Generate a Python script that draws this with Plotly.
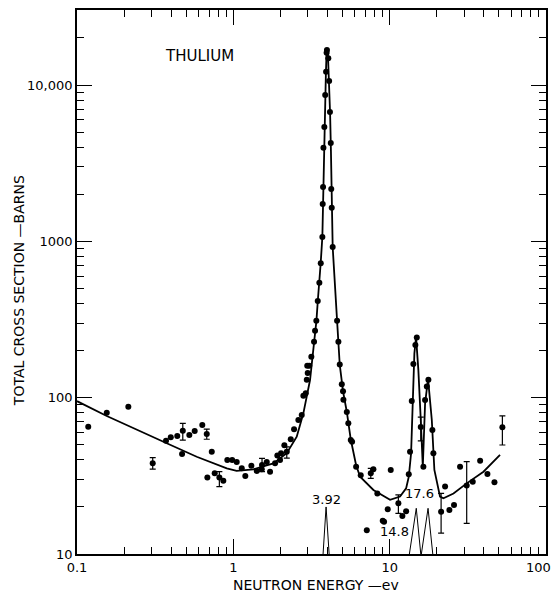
import plotly.graph_objects as go
import math

# ---------------- data ----------------
# measured points (energy eV, total cross section barns)
pt_E = [0.118, 0.155, 0.213, 0.371, 0.398, 0.438, 0.470, 0.523, 0.566, 0.633,
        0.728, 0.682, 0.760, 0.863, 0.915, 0.983, 1.051, 1.132, 1.193, 1.304,
        1.411, 1.52, 1.636, 1.717, 1.849, 1.912, 1.990, 2.02, 2.12, 2.33,
        2.446, 2.606, 2.739, 2.805, 2.905, 2.95, 2.99, 2.97, 3.06, 3.155,
        3.283, 3.332, 3.396, 3.467, 3.550, 3.624, 3.71, 3.73, 3.75, 3.77,
        3.82, 3.87, 3.92, 3.95, 3.97, 4.05, 4.10, 4.15, 4.20, 4.23,
        4.26, 4.32, 4.61, 4.70, 4.795, 4.94, 5.03, 5.06, 5.32, 5.44,
        5.64, 5.75, 6.10, 6.53, 7.87, 8.34, 10.16, 9.72, 9.03, 9.21,
        7.14, 10.5, 12.06, 12.74, 13.25, 13.5, 13.85, 14.18, 14.6, 14.91,
        16.43, 16.85, 17.28, 17.69, 18.76, 19.04, 22.62, 24.1, 25.8, 28.2,
        34.0, 37.9, 42.2, 46.8]
pt_S = [65.2, 80.2, 87.5, 53.1, 55.8, 56.9, 43.6, 57.7, 61.2, 66.8,
        45.1, 30.9, 32.8, 29.4, 39.9, 39.9, 38.8, 35.3, 31.6, 36.7,
        34.0, 34.8, 38.8, 33.6, 38.0, 42.6, 39.9, 44.1, 49.6, 54.2,
        62.8, 71.9, 77.5, 103, 106.7, 130, 144, 160, 160, 183,
        228, 268, 310, 416, 544, 724, 1067, 1734, 2228, 3977,
        5395, 8645, 12180, 16100, 16780, 14840, 10620, 6730, 4263, 2163,
        1643, 920, 310, 228, 163, 122, 110, 97, 81, 68.5,
        53.6, 52.3, 36.2, 31.9, 34.8, 24.4, 34.5, 19.3, 16.3, 16.1,
        14.2, 9.7, 17.5, 18.8, 32.4, 45.1, 95.3, 164, 217, 243,
        36.2, 96.6, 118, 130, 62.1, 44.1, 27.0, 19.1, 20.6, 36.2,
        29.0, 39.5, 32.5, 28.8]

# points drawn with error bars
err_E = [0.305, 0.475, 0.676, 0.814, 1.526, 2.197, 7.57, 11.37, 15.81, 21.33, 31.1, 52.6]
err_S = [38.0, 61.5, 58.6, 30.9, 37.1, 45.1, 32.8, 21.1, 65.0, 18.6, 27.4, 64.7]
err_up = [3.4, 7.0, 4.4, 2.7, 3.8, 3.4, 2.5, 2.8, 10.0, 5.8, 11.6, 11.7]
err_dn = [3.1, 8.0, 4.4, 3.9, 3.5, 4.1, 2.3, 2.9, 12.0, 5.0, 11.7, 14.9]

# fitted curve
curve_E = [0.1, 0.155, 0.375, 0.583, 0.908, 1.05, 1.343, 1.803, 2.197, 2.544,
           2.805, 3.095, 3.283, 3.40, 3.47, 3.55, 3.62, 3.71, 3.76, 3.80,
           3.86, 3.91, 3.95, 3.98, 4.03, 4.10, 4.16, 4.21, 4.26, 4.32,
           4.61, 4.795, 5.03, 5.32, 5.64, 6.10, 6.47, 7.87, 10.06, 11.65,
           12.74, 13.25, 13.71, 14.06, 14.39, 14.75, 15.26, 15.81, 16.29, 16.85,
           17.6, 18.6, 19.32, 21.0, 22.07, 25.6, 31.1, 39.8, 50.8]
curve_S = [95, 76.4, 51.1, 41.9, 35.3, 34.0, 34.8, 38.0, 44.1, 56.3,
           79.4, 129.7, 224, 310, 415, 544, 724, 1067, 2200, 4000,
           7500, 12000, 16300, 17000, 15500, 10600, 6500, 3800, 1800, 920,
           310, 162, 110, 81, 54, 37, 31.2, 25.7, 22.2, 23.3,
           26.3, 31.2, 44.1, 92, 192, 245, 150, 72, 36.2, 92,
           132, 72, 34.5, 23.3, 22.7, 24.4, 28.3, 33.6, 43.0]

# resolution triangles at the resonance energies
res_E = [3.92, 14.8, 17.6]
res_lab = ["3.92", "14.8", "17.6"]
tri_E = [3.75, 3.92, 4.10, None, 13.37, 14.8, 15.81, None, 15.95, 17.6, 18.87]
tri_S = [10, 20, 10, None, 10, 19.6, 10, None, 10, 19.6, 10]

x_tickvals = [0.1, 1, 10, 100]
x_ticktext = ["0.1", "1", "10", "100"]
y_tickvals = [10, 100, 1000, 10000]
y_ticktext = ["10", "100", "1000", "10,000"]

# ---------------- figure ----------------
FONT = "DejaVu Sans"
minor_x = [m * 10 ** d for d in (-1, 0, 1) for m in range(2, 10)]
minor_y = [m * 10 ** d for d in (1, 2, 3, 4) for m in range(2, 10) if m * 10 ** d <= 30000]

fig = go.Figure()
fig.add_trace(go.Scatter(x=curve_E, y=curve_S, mode="lines",
                         line=dict(color="black", width=1.8), hoverinfo="skip"))
fig.add_trace(go.Scatter(x=tri_E, y=tri_S, mode="lines",
                         line=dict(color="black", width=1.0), cliponaxis=False))
fig.add_trace(go.Scatter(x=pt_E, y=pt_S, mode="markers",
                         marker=dict(color="black", size=6), cliponaxis=False))
fig.add_trace(go.Scatter(x=err_E, y=err_S, mode="markers",
                         marker=dict(color="black", size=6),
                         error_y=dict(type="data", symmetric=False, array=err_up,
                                      arrayminus=err_dn, color="black",
                                      thickness=1.2, width=3)))

axis_common = dict(type="log", showline=True, linecolor="black", linewidth=1.8,
                   mirror="ticks", ticks="inside", ticklen=15, tickwidth=1.2,
                   tickcolor="black", showgrid=False, zeroline=False, automargin=False,
                   ticklabeloverflow="allow",
                   tickfont=dict(family=FONT, size=13, color="black"))

# the last x label sits at the page edge; it is drawn right-aligned so it is not cut
x_ticktext_shown = x_ticktext[:-1] + [""]

fig.update_layout(
    width=554, height=592,
    margin=dict(l=77, r=8, t=10, b=38),
    paper_bgcolor="white", plot_bgcolor="white",
    showlegend=False,
    xaxis=dict(range=[-1, 2], tickmode="array", tickvals=x_tickvals, ticktext=x_ticktext_shown,
               minor=dict(tickmode="array", tickvals=minor_x, ticks="inside", ticklen=7,
                          tickwidth=1, tickcolor="black", showgrid=False),
               **axis_common),
    yaxis=dict(range=[1, 4.48], tickmode="array", tickvals=y_tickvals, ticktext=y_ticktext,
               minor=dict(tickmode="array", tickvals=minor_y, ticks="inside", ticklen=7,
                          tickwidth=1, tickcolor="black", showgrid=False),
               **axis_common),
)

annos = [
    dict(text=x_ticktext[-1], xref="paper", yref="paper", x=1.0145, y=-0.0245,
         xanchor="right", yanchor="middle",
         showarrow=False, font=dict(family=FONT, size=13, color="black")),
    dict(text="THULIUM", xref="paper", yref="paper", x=0.262, y=0.915,
         xanchor="center", yanchor="middle",
         showarrow=False, font=dict(family=FONT, size=15, color="black")),
    dict(text="NEUTRON ENERGY \u2014ev", xref="paper", yref="paper", x=0.51, y=-0.057,
         xanchor="center", yanchor="middle",
         showarrow=False, font=dict(family=FONT, size=14, color="black")),
    dict(text="TOTAL CROSS SECTION \u2014BARNS", xref="paper", yref="paper", x=-0.1237, y=0.485,
         xanchor="center", yanchor="middle",
         textangle=-90, showarrow=False, font=dict(family=FONT, size=14, color="black")),
    dict(text=res_lab[0], x=math.log10(res_E[0]), y=math.log10(22.3), xref="x", yref="y",
         showarrow=False, font=dict(family=FONT, size=13, color="black")),
    dict(text=res_lab[1], x=math.log10(10.8), y=math.log10(13.9), xref="x", yref="y",
         showarrow=False, font=dict(family=FONT, size=13, color="black")),
    dict(text=res_lab[2], x=math.log10(15.5), y=math.log10(24.4), xref="x", yref="y",
         showarrow=False, font=dict(family=FONT, size=13, color="black")),
]
fig.update_layout(annotations=annos)

fig.write_html("out.html", config={"displayModeBar": False},
               post_script="document.body.style.margin='0';document.body.style.padding='0';")
